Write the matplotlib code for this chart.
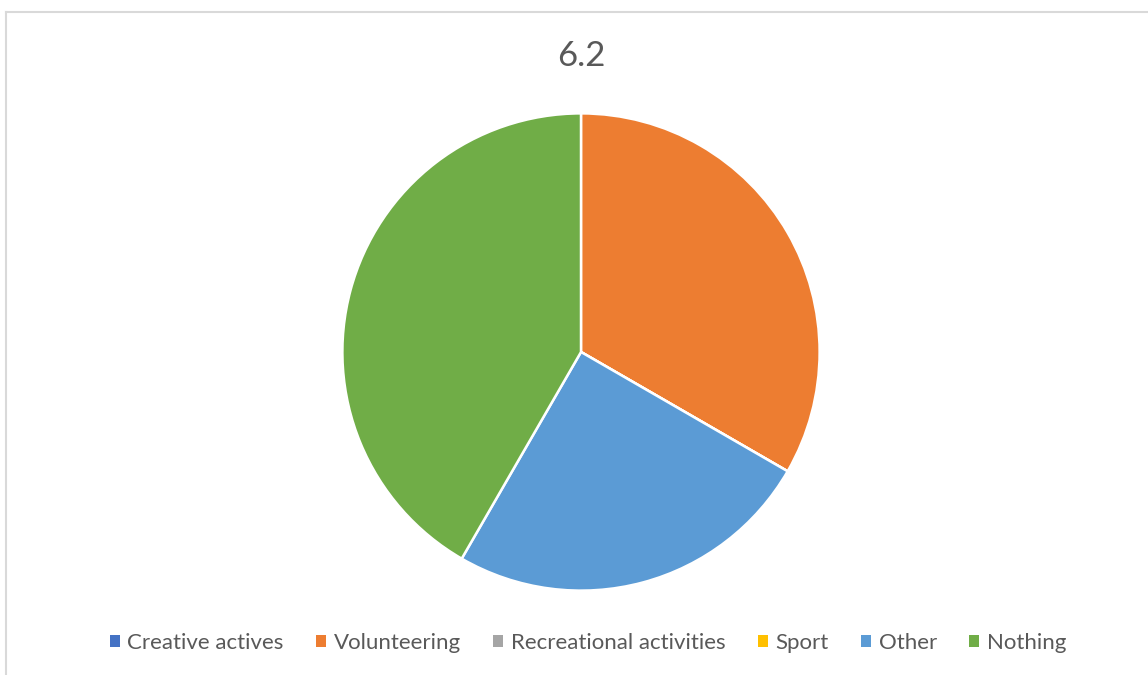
import matplotlib
matplotlib.use("Agg")
import matplotlib.pyplot as plt
from matplotlib.lines import Line2D
from matplotlib.patches import Patch

title = "6.2"
categories = ["Creative actives", "Volunteering", "Recreational activities", "Sport", "Other", "Nothing"]
values = [0, 4, 0, 0, 3, 5]
colors = ["#4472C4", "#ED7D31", "#A5A5A5", "#FFC000", "#5B9BD5", "#70AD47"]

W, H = 1148, 675
fig = plt.figure(figsize=(W / 100, H / 100), dpi=100)
plt.rcParams["font.family"] = ["Lato", "DejaVu Sans"]

# chart frame
fig.add_artist(Line2D([5.5 / W, 5.5 / W], [0, 1 - 11.5 / H], transform=fig.transFigure,
                      color="#D9D9D9", lw=1.5))
fig.add_artist(Line2D([5.5 / W, 1], [1 - 11.5 / H, 1 - 11.5 / H], transform=fig.transFigure,
                      color="#D9D9D9", lw=1.5))

cx, cy, r = 581, 352, 241
ax = fig.add_axes([(cx - r) / W, (H - cy - r) / H, 2 * r / W, 2 * r / H])
ax.pie(values, colors=colors, startangle=90, counterclock=False, radius=1,
       wedgeprops=dict(edgecolor="white", linewidth=1.8))
ax.set_xlim(-1.01, 1.01)
ax.set_ylim(-1.01, 1.01)
ax.set_aspect("equal")
ax.axis("off")

fig.text(581 / W, 1 - 56 / H, title, ha="center", va="center", fontsize=25, color="#595959")

handles = [Patch(facecolor=c, edgecolor="none") for c in colors]
fig.legend(handles, categories, loc="center", bbox_to_anchor=(588 / W, 1 - 643 / H), ncol=6,
           frameon=False, fontsize=16, labelcolor="#595959", handlelength=0.45, handleheight=0.45,
           handletextpad=0.35, columnspacing=1.45)

fig.savefig("out.png", dpi=100)
